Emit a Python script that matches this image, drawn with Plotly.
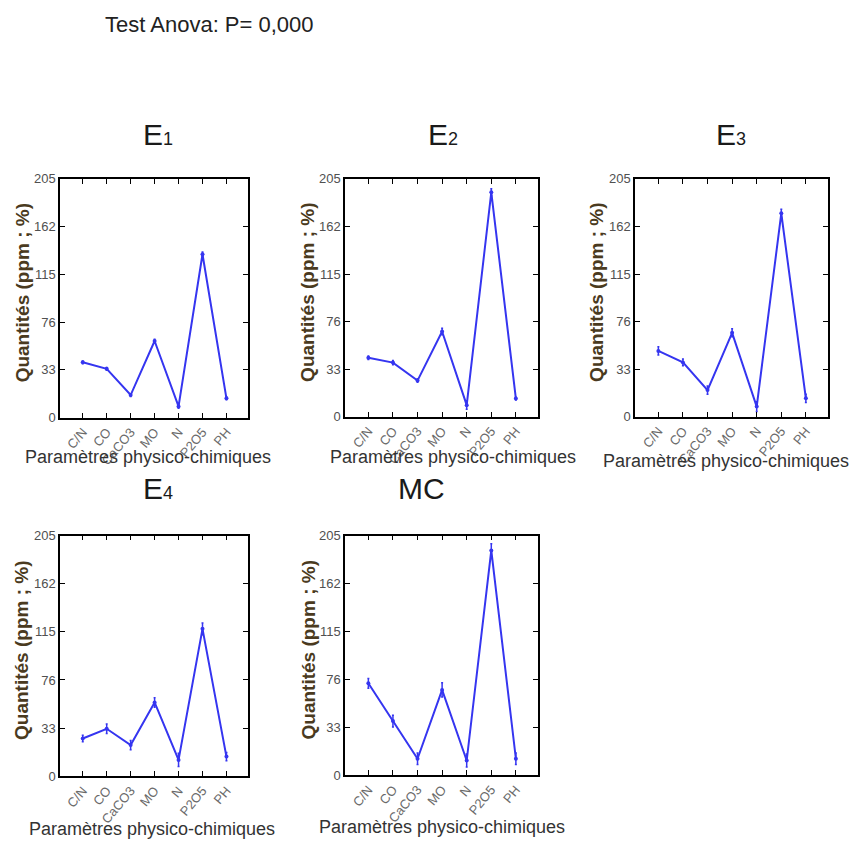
import plotly.graph_objects as go

categories = ["C/N", "CO", "CaCO3", "MO", "N", "P2O5", "PH"]
ytick_vals = [0, 41, 82, 123, 164, 205]
ytick_text = ["0", "33", "76", "115", "162", "205"]

e1_vals = [47.5, 41.9, 19.4, 65.8, 9.6, 140.3, 16.6]
e1_err = [1.2, 1.2, 1.2, 1.5, 1.5, 2.0, 1.2]
e2_vals = [50.8, 46.6, 31.1, 73.4, 9.9, 193.5, 15.6]
e2_err = [1.5, 1.8, 1.5, 2.8, 3.5, 3.0, 1.2]
e3_vals = [56.7, 46.8, 22.9, 72.3, 8.7, 175.3, 15.8]
e3_err = [3.5, 3.0, 3.5, 3.5, 4.2, 3.5, 3.5]
e4_vals = [32.1, 40.4, 26.5, 62.8, 13.9, 125.5, 16.7]
e4_err = [2.8, 4.0, 4.0, 4.0, 5.6, 5.0, 3.5]
mc_vals = [78.6, 46.3, 14.1, 73.0, 12.6, 192.3, 14.1]
mc_err = [4.2, 5.0, 5.0, 6.0, 5.6, 5.6, 5.0]

W, H = 859, 852
SUB = "<span style='font-size:18px'>%s</span>"
panels = [
    ("E" + SUB % "1", e1_vals, e1_err, (60, 248), (175, 418), (158, 130), (148, 458), 22),
    ("E" + SUB % "2", e2_vals, e2_err, (345, 538), (175, 417), (443, 130), (453, 458), 308),
    ("E" + SUB % "3", e3_vals, e3_err, (635, 828), (175, 417), (731, 130), (726, 462), 597),
    ("E" + SUB % "4", e4_vals, e4_err, (60, 248), (538, 783), (158, 490), (152, 837), 22),
    ("MC", mc_vals, mc_err, (345, 538), (538, 782), (421, 490), (442, 835), 308),
]

FONT = "Liberation Sans, Arial, sans-serif"
LINE = "#3535f0"

fig = go.Figure()
annotations = []
layout = {}
for i, (name, vals, err, (x0, x1), (yt, yb), tpos, xtpos, ytx) in enumerate(panels):
    k = "" if i == 0 else str(i + 1)
    fig.add_trace(go.Scatter(
        x=categories, y=vals, mode="lines+markers",
        line=dict(color=LINE, width=2),
        marker=dict(color=LINE, size=4),
        error_y=dict(type="data", array=err, visible=True, color=LINE, thickness=1.5, width=1),
        xaxis="x" + k, yaxis="y" + k, showlegend=False,
    ))
    layout["xaxis" + k] = dict(
        domain=[x0 / W, x1 / W], anchor="y" + k, type="category",
        range=[-0.95, 6.9], showgrid=False, zeroline=False,
        showline=True, linecolor="black", linewidth=1.5, mirror="ticks",
        ticks="inside", ticklen=5, tickcolor="black", tickwidth=1.2,
        tickangle=-50, tickfont=dict(family=FONT, size=13, color="#6a6a6a"),
    )
    layout["yaxis" + k] = dict(
        domain=[1 - yb / H, 1 - yt / H], anchor="x" + k,
        range=[0, 205], showgrid=False, zeroline=False,
        showline=True, linecolor="black", linewidth=1.5, mirror="ticks",
        ticks="inside", ticklen=5, tickcolor="black", tickwidth=1.2,
        tickvals=ytick_vals, ticktext=ytick_text,
        tickfont=dict(family=FONT, size=13, color="#505050"),
    )
    annotations.append(dict(text=name, x=tpos[0] / W, y=1 - tpos[1] / H, xref="paper", yref="paper",
                            showarrow=False, font=dict(family=FONT, size=30, color="#1a1a1a"),
                            xanchor="center", yanchor="middle"))
    annotations.append(dict(text="Paramètres physico-chimiques", x=xtpos[0] / W, y=1 - xtpos[1] / H,
                            xref="paper", yref="paper", showarrow=False,
                            font=dict(family=FONT, size=18, color="#333333"),
                            xanchor="center", yanchor="middle"))
    annotations.append(dict(text="<b>Quantités (ppm ; %)</b>", x=ytx / W, y=1 - ((yt + yb) / 2 - 5) / H,
                            xref="paper", yref="paper", showarrow=False, textangle=-90,
                            font=dict(family=FONT, size=19, color="#4a3a20"),
                            xanchor="center", yanchor="middle"))

annotations.append(dict(text="Test Anova: P= 0,000", x=103 / W, y=1 - 18 / H, xref="paper", yref="paper",
                        showarrow=False, font=dict(family=FONT, size=22, color="#222222"),
                        xanchor="left", yanchor="middle"))

fig.update_layout(
    width=W, height=H, margin=dict(l=0, r=0, t=0, b=0),
    paper_bgcolor="white", plot_bgcolor="white",
    annotations=annotations, **layout,
)
fig.write_html("out.html")
